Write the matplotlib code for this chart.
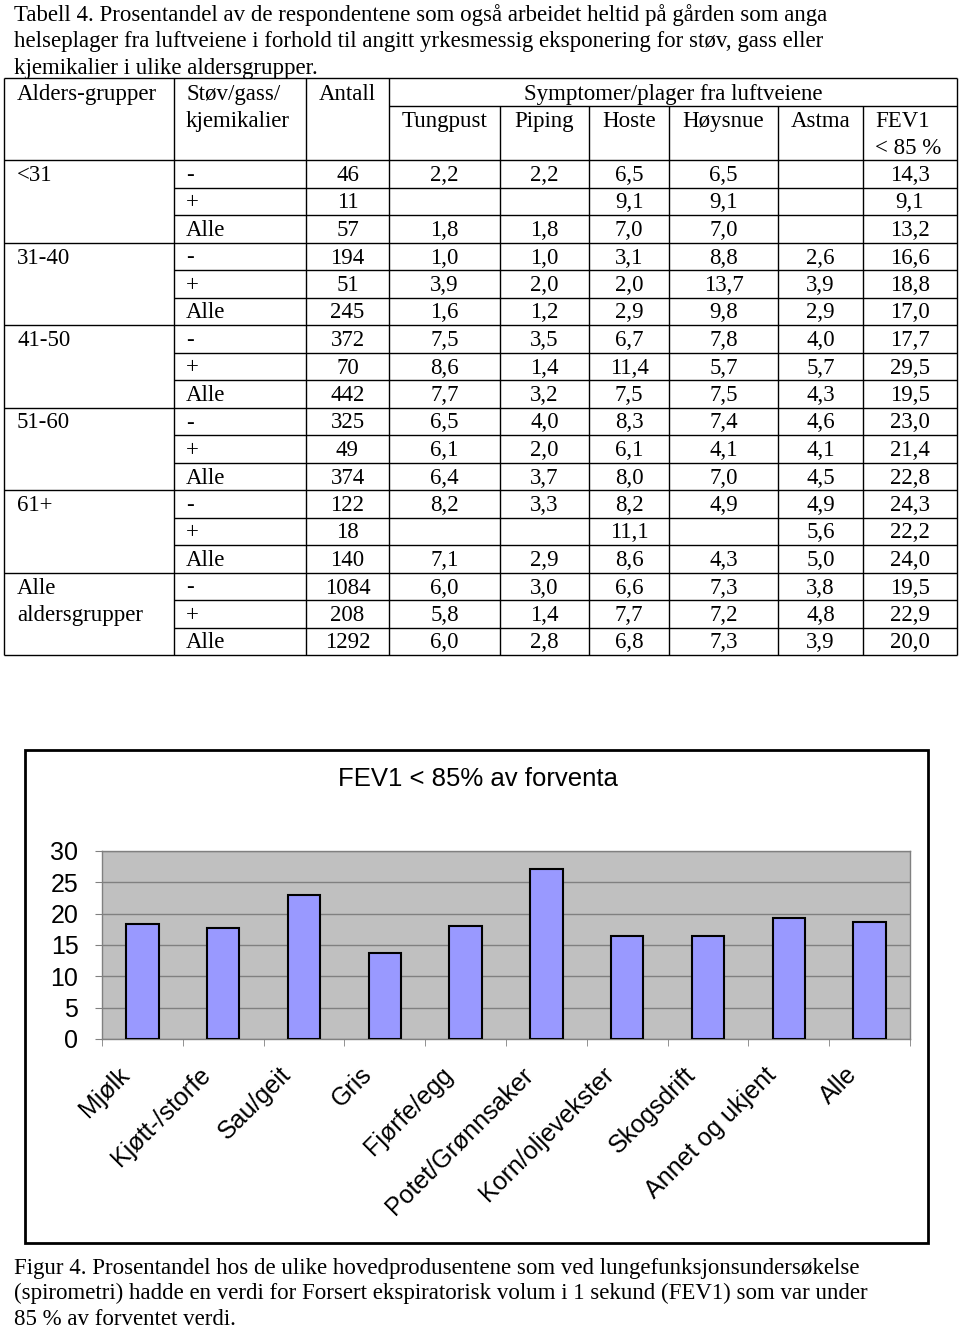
import matplotlib
matplotlib.use('Agg')
import matplotlib.pyplot as plt
import matplotlib.transforms as mtransforms
from matplotlib.patches import Rectangle

# Table 4 data (percent), None = empty cell
age_groups = ['<31', '31-40', '41-50', '51-60', '61+', 'Alle\naldersgrupper']
exposure = ['-', '+', 'Alle']
antall = [46, 11, 57, 194, 51, 245, 372, 70, 442, 325, 49, 374, 122, 18, 140, 1084, 208, 1292]
tungpust = [2.2, None, 1.8, 1.0, 3.9, 1.6, 7.5, 8.6, 7.7, 6.5, 6.1, 6.4, 8.2, None, 7.1, 6.0, 5.8, 6.0]
piping = [2.2, None, 1.8, 1.0, 2.0, 1.2, 3.5, 1.4, 3.2, 4.0, 2.0, 3.7, 3.3, None, 2.9, 3.0, 1.4, 2.8]
hoste = [6.5, 9.1, 7.0, 3.1, 2.0, 2.9, 6.7, 11.4, 7.5, 8.3, 6.1, 8.0, 8.2, 11.1, 8.6, 6.6, 7.7, 6.8]
hoysnue = [6.5, 9.1, 7.0, 8.8, 13.7, 9.8, 7.8, 5.7, 7.5, 7.4, 4.1, 7.0, 4.9, None, 4.3, 7.3, 7.2, 7.3]
astma = [None, None, None, 2.6, 3.9, 2.9, 4.0, 5.7, 4.3, 4.6, 4.1, 4.5, 4.9, 5.6, 5.0, 3.8, 4.8, 3.9]
fev1 = [14.3, 9.1, 13.2, 16.6, 18.8, 17.0, 17.7, 29.5, 19.5, 23.0, 21.4, 22.8, 24.3, 22.2, 24.0, 19.5, 22.9, 20.0]
symptom_names = ['Tungpust', 'Piping', 'Hoste', 'Høysnue', 'Astma']

# Figure 4 data
producers = ['Mjølk', 'Kjøtt-/storfe', 'Sau/geit', 'Gris', 'Fjørfe/egg', 'Potet/Grønnsaker',
             'Korn/oljevekster', 'Skogsdrift', 'Annet og ukjent', 'Alle']
fev1_pct = [18.3, 17.7, 23.0, 13.8, 18.0, 27.2, 16.5, 16.5, 19.3, 18.7]

title_lines = ['Tabell 4. Prosentandel av de respondentene som også arbeidet heltid på gården som anga',
               'helseplager fra luftveiene i forhold til angitt yrkesmessig eksponering for støv, gass eller',
               'kjemikalier i ulike aldersgrupper.']
caption_lines = ['Figur 4. Prosentandel hos de ulike hovedprodusentene som ved lungefunksjonsundersøkelse',
                 '(spirometri) hadde en verdi for Forsert ekspiratorisk volum i 1 sekund (FEV1) som var under',
                 '85 % av forventet verdi.']

SERIF = 'Liberation Serif'
SANS = 'Liberation Sans'
FS = 16.5


def fmt(v):
    return '' if v is None else f'{v:.1f}'.replace('.', ',')


fig = plt.figure(figsize=(9.6, 13.3), dpi=100)
page = fig.add_axes([0, 0, 1, 1])
page.set_xlim(0, 960)
page.set_ylim(1330, 0)
page.axis('off')

# title above table
for i, line in enumerate(title_lines):
    page.text(14, 21 + i * 26.3, line, family=SERIF, fontsize=FS, va='baseline')

# table grid
col_x = [4, 174, 306, 389, 500, 589, 669, 778, 863, 957]
top, mid, hbot, rh = 78, 106, 160, 27.5
nrows = len(antall)
bot = hbot + nrows * rh
lw = 1.0
page.hlines([top, hbot, bot], col_x[0], col_x[-1], color='black', lw=lw)
page.hlines(mid, col_x[3], col_x[-1], color='black', lw=lw)
for r in range(1, nrows):
    y = hbot + r * rh
    x0 = col_x[0] if r % 3 == 0 else col_x[1]
    page.hlines(y, x0, col_x[-1], color='black', lw=lw)
for j, x in enumerate(col_x):
    y0 = mid if 4 <= j <= 8 else top
    page.vlines(x, y0, bot, color='black', lw=lw)

# header
page.text(17, 100, 'Alders-grupper', family=SERIF, fontsize=FS, va='baseline')
page.text(186, 100, 'Støv/gass/', family=SERIF, fontsize=FS, va='baseline')
page.text(186, 127, 'kjemikalier', family=SERIF, fontsize=FS, va='baseline')
page.text((col_x[2] + col_x[3]) / 2, 100, 'Antall', family=SERIF, fontsize=FS, va='baseline', ha='center')
page.text((col_x[3] + col_x[-1]) / 2, 100, 'Symptomer/plager fra luftveiene', family=SERIF,
          fontsize=FS, va='baseline', ha='center')
for j, name in enumerate(symptom_names):
    page.text((col_x[3 + j] + col_x[4 + j]) / 2, 127, name, family=SERIF, fontsize=FS,
              va='baseline', ha='center')
page.text(875, 127, 'FEV1', family=SERIF, fontsize=FS, va='baseline')
page.text(875, 154, '< 85 %', family=SERIF, fontsize=FS, va='baseline')

# body
columns = [tungpust, piping, hoste, hoysnue, astma, fev1]
for r in range(nrows):
    yb = hbot + r * rh + 21
    if r % 3 == 0:
        for k, part in enumerate(age_groups[r // 3].split('\n')):
            page.text(17, yb + k * rh, part, family=SERIF, fontsize=FS, va='baseline')
    page.text(186, yb, exposure[r % 3], family=SERIF, fontsize=FS, va='baseline')
    page.text((col_x[2] + col_x[3]) / 2, yb, str(antall[r]), family=SERIF, fontsize=FS,
              va='baseline', ha='center')
    for j, col in enumerate(columns):
        page.text((col_x[3 + j] + col_x[4 + j]) / 2, yb, fmt(col[r]), family=SERIF,
                  fontsize=FS, va='baseline', ha='center')

# chart frame and title
page.add_patch(Rectangle((25, 750), 903, 493, fill=False, edgecolor='black', lw=2))
page.text(478, 779, 'FEV1 < 85% av forventa', family=SANS, fontsize=18.5, ha='center', va='center')

# caption
for i, line in enumerate(caption_lines):
    page.text(14, 1274 + i * 25.5, line, family=SERIF, fontsize=FS, va='baseline')

# bar chart
ax = fig.add_axes([102 / 960, 1 - 1039 / 1330, (910 - 102) / 960, (1039 - 851) / 1330])
ax.set_facecolor('#C0C0C0')
x = range(len(producers))
ax.bar(x, fev1_pct, width=0.4, color='#9999FF', edgecolor='black', linewidth=1.5, zorder=3)
ax.set_xlim(-0.5, len(producers) - 0.5)
ax.set_ylim(0, 30)
ax.set_yticks(range(0, 31, 5))
ax.yaxis.grid(True, color='#808080', lw=1, zorder=1)
ax.set_axisbelow(True)
for s in ax.spines.values():
    s.set_color('#808080')
    s.set_linewidth(1)
ax.tick_params(axis='y', colors='#808080', length=5, pad=12, labelsize=18, labelcolor='black')
ax.set_xticks([i - 0.5 for i in range(len(producers) + 1)], minor=True)
ax.set_xticks(list(x))
ax.tick_params(axis='x', which='minor', colors='#808080', length=5)
ax.tick_params(axis='x', which='major', length=0, pad=17, labelsize=18)
ax.set_xticklabels(producers, rotation=45, ha='right', rotation_mode='anchor')
for lab in ax.get_yticklabels() + ax.get_xticklabels():
    lab.set_family(SANS)
shift = mtransforms.ScaledTranslation(-25 / 100, 0, fig.dpi_scale_trans)
for lab in ax.get_xticklabels():
    lab.set_transform(lab.get_transform() + shift)

fig.savefig('out.png', dpi=100)
